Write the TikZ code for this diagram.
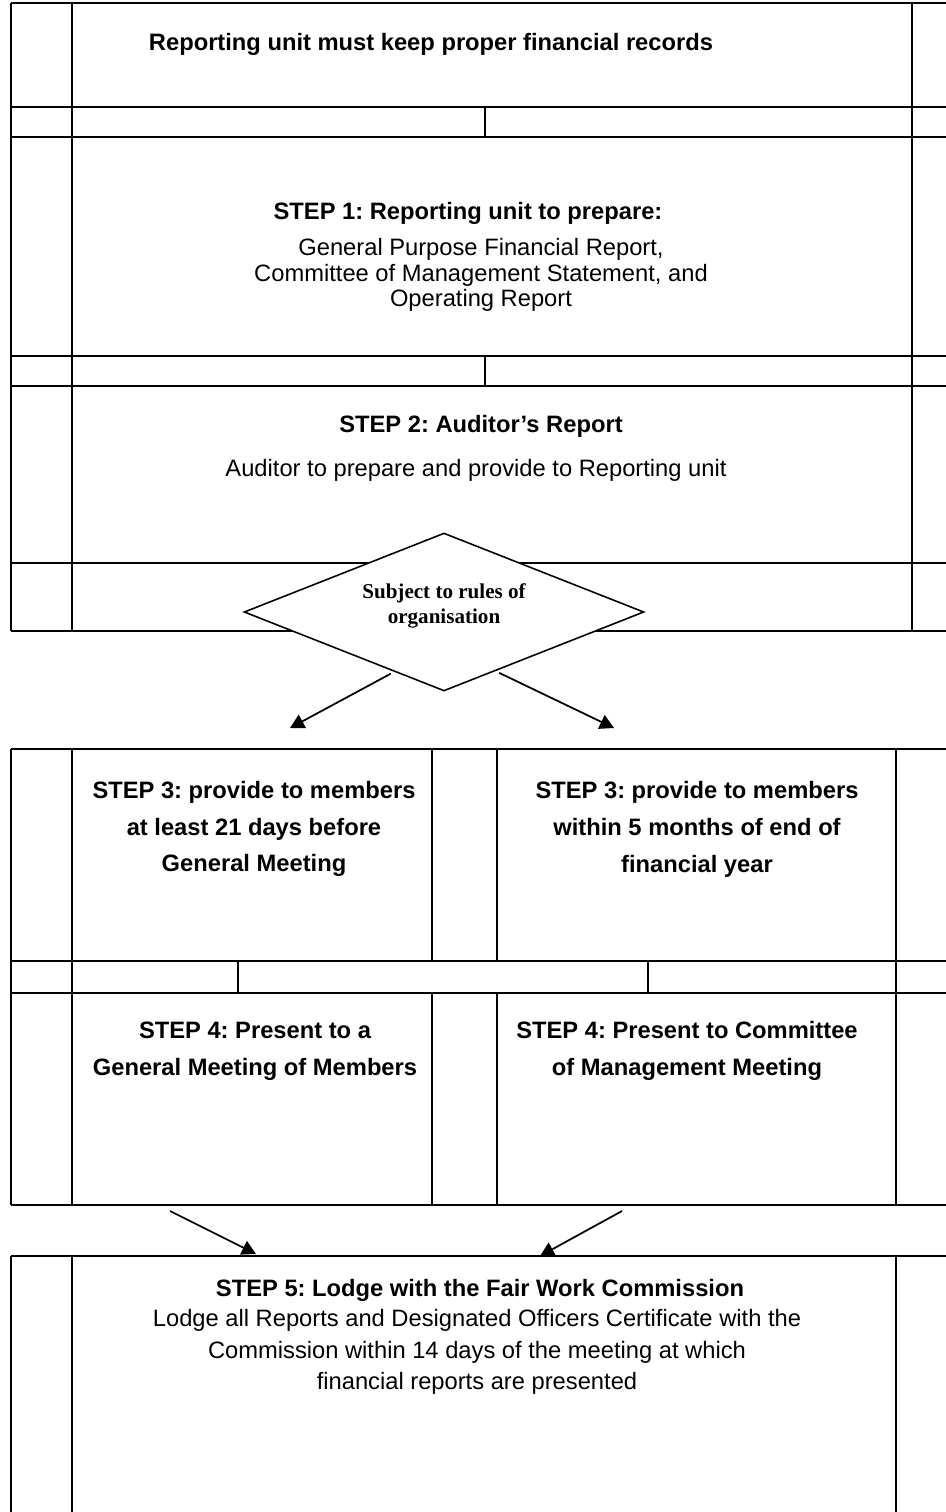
\documentclass[tikz,border=0pt]{standalone}
\usepackage{fontspec}
\setmainfont{Liberation Sans}
\newfontfamily\timesfont{Liberation Serif}
\usetikzlibrary{shapes.geometric, arrows.meta, calc}
\frenchspacing

\begin{document}
\begin{tikzpicture}[x=0.02cm, y=-0.02cm,
     rule/.style={line width=0.9pt},
     head/.style={font=\bfseries\fontsize{13.5}{15}\selectfont, align=center},
     body/.style={font=\fontsize{13.5}{14.5}\selectfont, align=center},
     steptext/.style={font=\bfseries\fontsize{13.5}{21}\selectfont, align=center},
     lodge/.style={font=\fontsize{13.5}{18}\selectfont, align=center},
     choice/.style={draw, diamond, fill=white, line width=0.9pt, inner sep=0pt,
                    minimum width=8cm, minimum height=3.16cm},
     choicetext/.style={font=\timesfont\bfseries\fontsize{12}{14.2}\selectfont, align=center},
     go/.style={-{Triangle[length=8pt,width=8.5pt]}, line width=1pt}
     ]
\useasboundingbox (0,0) rectangle (946,1512);
\clip (0,0) rectangle (946,1512);

%Vertical rules shared by the tables
\def \xl{11}
\def \xa{72}
\def \xb{912}
\def \xc{896}
\def \xr{990}

%Top table: the four rows and the two thin rows
\foreach \y in {3,107,137,356,386,563,631}
   \draw[rule] (\xl,\y) -- (\xr,\y);
\foreach \x in {\xl,\xa,\xb}
   \draw[rule] (\x,3) -- (\x,631);
\foreach \y in {107,356}
   \draw[rule] (485,\y) -- (485,{\y+30});

%Middle table: two columns, split by a thin row
\foreach \y in {749,961,993,1205}
   \draw[rule] (\xl,\y) -- (\xr,\y);
\foreach \x in {\xl,\xa,\xc}
   \draw[rule] (\x,749) -- (\x,1205);
\foreach \x in {432,497}
   {
   \draw[rule] (\x,749) -- (\x,961);
   \draw[rule] (\x,993) -- (\x,1205);
   }
\foreach \x in {238,648}
   \draw[rule] (\x,961) -- (\x,993);

%Bottom table, open at the foot
\draw[rule] (\xl,1256) -- (\xr,1256);
\foreach \x in {\xl,\xa,\xc}
   \draw[rule] (\x,1256) -- (\x,1530);

%Texts of the top table
\node[head] (records) at (431,44) {Reporting unit must keep proper financial records};
\node[head] (step1) at (468,213) {STEP 1: Reporting unit to prepare:};
\node[body] (step1txt) at (481,275) {General Purpose Financial Report,\\Committee of Management Statement, and\\Operating Report};
\node[head] (step2) at (481,426) {STEP 2: Auditor’s Report};
\node[body] (step2txt) at (476,470) {Auditor to prepare and provide to Reporting unit};

%The decision
\node[choice] (rules) at (444,612) {};
\node[choicetext] (rulestxt) at (444,606) {Subject to rules of\\organisation};

%Step 3 and step 4, side by side
\node[steptext] (step3a) at (254,829) {STEP 3: provide to members\\at least 21 days before\\General Meeting};
\node[steptext] (step3b) at (697,829) {STEP 3: provide to members\\within 5 months of end of\\financial year};
\node[steptext] (step4a) at (255,1051) {STEP 4: Present to a\\General Meeting of Members};
\node[steptext] (step4b) at (687,1051) {STEP 4: Present to Committee\\of Management Meeting};

%Step 5
\node[head] (step5) at (480,1290) {STEP 5: Lodge with the Fair Work Commission};
\node[lodge] (step5txt) at (477,1352) {Lodge all Reports and Designated Officers Certificate with the\\Commission within 14 days of the meeting at which\\financial reports are presented};

%Arrows
\coordinate (in3a) at (290,728);
\coordinate (in3b) at (614,728);
\draw[go] ($(rules.south)!0.265!(rules.west)+(0,3)$) -- (in3a);
\draw[go] ($(rules.south)!0.275!(rules.east)+(0,3)$) -- (in3b);

\coordinate (out4a) at (170,1211);
\coordinate (in5a) at (256,1254);
\coordinate (out4b) at (622,1211);
\coordinate (in5b) at (540,1256);
\draw[go] (out4a) -- (in5a);
\draw[go] (out4b) -- (in5b);
\end{tikzpicture}
\end{document}
